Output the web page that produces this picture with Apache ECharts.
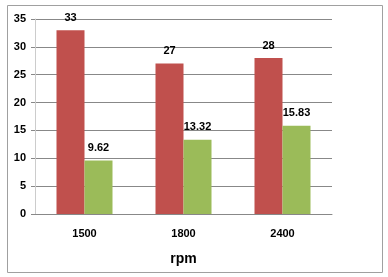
<!DOCTYPE html>
<html><head><meta charset="utf-8">
<script src="https://cdn.jsdelivr.net/npm/echarts@6/dist/echarts.min.js"></script>
<style>html,body{margin:0;padding:0;background:#fff}#c{width:388px;height:277px}</style>
</head><body><div id="c"></div>
<script>
const categories = ['1500', '1800', '2400'];
const seriesA = [33, 27, 28];
const seriesB = [9.62, 13.32, 15.83];
const yTicks = [0, 5, 10, 15, 20, 25, 30, 35];
const xAxisName = 'rpm';

const chart = echarts.init(document.getElementById('c'));
const lbl = {show: true, position: 'top', distance: 7, fontFamily: 'Liberation Sans, Arial, sans-serif', fontWeight: 'bold', fontSize: 11, color: '#000'};
chart.setOption({
  animation: false,
  grid: {left: 35, right: 56, top: 19, bottom: 63},
  graphic: [{type: 'rect', shape: {x: 7.5, y: 5.5, width: 375, height: 267}, style: {fill: 'none', stroke: '#a0a0a0', lineWidth: 1}, silent: true}],
  xAxis: {
    type: 'category', data: categories,
    name: xAxisName, nameLocation: 'middle', nameGap: 38,
    nameTextStyle: {fontFamily: 'Liberation Sans, Arial, sans-serif', fontWeight: 'bold', fontSize: 14, color: '#000'},
    axisLine: {show: true, lineStyle: {color: '#888', width: 1}},
    axisTick: {show: false},
    axisLabel: {margin: 14, fontFamily: 'Liberation Sans, Arial, sans-serif', fontWeight: 'bold', fontSize: 11, color: '#000'}
  },
  yAxis: {
    type: 'value', min: yTicks[0], max: yTicks[yTicks.length - 1], interval: 5,
    axisLine: {show: true, lineStyle: {color: '#ccc', width: 1}},
    axisTick: {show: true, length: 4, lineStyle: {color: '#888'}},
    splitLine: {lineStyle: {color: '#888', width: 1}},
    axisLabel: {margin: 9, fontFamily: 'Liberation Sans, Arial, sans-serif', fontWeight: 'bold', fontSize: 11, color: '#000'}
  },
  series: [
    {type: 'bar', data: seriesA, barWidth: 28, barGap: '0%', itemStyle: {color: '#C0504D'}, label: lbl},
    {type: 'bar', data: seriesB, barWidth: 28, barGap: '0%', itemStyle: {color: '#9BBB59'}, label: lbl}
  ]
});
</script></body></html>
